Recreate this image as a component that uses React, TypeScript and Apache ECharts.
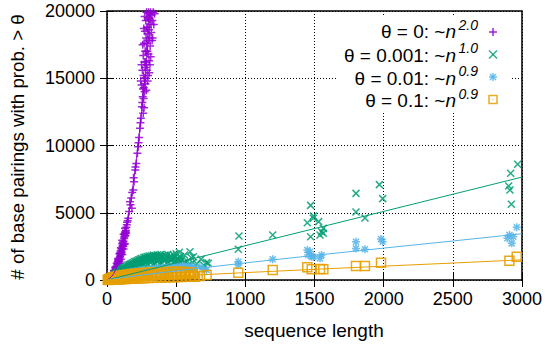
import React, { useEffect, useRef } from "react";
import * as echarts from "echarts";

const FONT = '"Liberation Sans", Arial, Helvetica, sans-serif';

const PURPLE = "#9400d3";
const GREEN = "#009e73";
const BLUE = "#56b4e9";
const ORANGE = "#e69f00";

const xTickValues = [0, 500, 1000, 1500, 2000, 2500, 3000];
const yTickValues = [0, 5000, 10000, 15000, 20000];

const legendLabels = ["θ = 0: ~", "θ = 0.001: ~", "θ = 0.01: ~", "θ = 0.1: ~"];
const legendExponents = ["2.0", "1.0", "0.9", "0.9"];

// θ = 0 : [sequence length, pair count]
const purplePoints: [number, number][] = [
  [4, 5], [8, 15], [12, 30], [16, 50], [20, 80], [24, 110], [28, 160], [32, 200], [36, 260], [40, 320],
  [44, 390], [48, 460], [52, 540], [56, 630], [60, 720], [64, 820], [68, 930], [72, 1040], [76, 1150],
  [80, 1280], [84, 1410], [88, 1550], [92, 1700], [96, 1850], [100, 2000], [104, 2160], [108, 2330],
  [112, 2510], [116, 2690], [120, 2880], [124, 3080], [128, 3280], [132, 3480], [136, 3700], [140, 3920],
  [30, 240], [38, 250], [46, 480], [54, 520], [62, 900], [70, 850], [78, 1400], [86, 1250], [94, 2000],
  [102, 1900], [110, 2700], [118, 2500], [126, 3400], [134, 3300], [42, 300], [50, 620], [58, 560],
  [66, 1000], [74, 950], [82, 1500], [90, 1400], [98, 2150], [106, 2050], [114, 2800], [122, 2650],
  [130, 3550], [138, 3500], [145, 4300], [130, 3840], [154, 4590], [166, 5820], [180, 5330], [190, 6690],
  [196, 7310], [205, 8180], [212, 8670], [220, 9420], [226, 9910], [232, 10600], [238, 11280], [245, 12020],
  [252, 12880], [258, 13630], [175, 6100], [182, 6500], [192, 7600], [206, 8400], [228, 10200], [242, 11700],
  [35, 200], [45, 330], [55, 650], [65, 760], [75, 1200], [85, 1500], [95, 1750], [105, 2300], [115, 2550],
  [125, 3200], [135, 3600], [143, 4100], [150, 4400], [160, 5100], [170, 5600],
  [60, 560], [70, 760], [80, 1000], [90, 1250], [100, 1550], [110, 1900], [120, 2300], [130, 2700],
  [50, 700], [60, 950], [70, 1250], [80, 1600], [90, 1950], [100, 2400], [110, 2950], [120, 3400],
  [255, 13200], [266, 14300], [270, 15000], [275, 15800], [280, 16200], [284, 17000], [288, 17600],
  [292, 18300], [296, 18800], [300, 19300], [305, 19800], [260, 14200], [264, 15200], [270, 16200],
  [276, 17000], [282, 18000], [288, 18800], [294, 19500], [300, 19900], [272, 14000], [280, 15000],
  [286, 16000], [292, 17000], [298, 17800], [304, 18600], [310, 19400], [315, 19900], [265, 13500],
  [278, 14600], [290, 15600], [300, 16800], [308, 18000], [318, 19000], [322, 19700],
  [250, 14500], [256, 15600], [262, 16700], [268, 17600], [274, 18500], [280, 19300], [286, 19900],
  [296, 15200], [304, 16300], [312, 17400], [320, 18400], [328, 19300], [334, 19900],
  [268, 12800], [262, 12400], [284, 14100], [294, 14800], [310, 16000], [330, 18000],
  [244, 14800], [250, 16000], [258, 17500], [266, 18700], [272, 19600], [306, 15400], [316, 16600],
  [326, 17800], [338, 19000], [344, 19800],
];
const purpleFit: [number, number][] = [
  [0, 0], [50, 500], [100, 2000], [150, 4500], [200, 8000], [250, 12500], [300, 18000], [316, 20000],
];

// θ = 0.001
const greenPoints: [number, number][] = [
  [10, 60], [15, 110], [20, 150], [25, 200], [30, 170], [35, 260], [40, 300], [45, 250], [50, 380],
  [55, 420], [60, 350], [65, 500], [70, 460], [75, 560], [80, 600], [85, 520], [90, 700], [95, 640],
  [100, 780], [105, 700], [110, 850], [115, 760], [120, 900], [125, 820], [130, 960], [135, 880],
  [140, 1020], [145, 950], [150, 1100], [155, 980], [160, 1150], [165, 1050], [170, 1180], [175, 1100],
  [180, 1250], [185, 1150], [190, 1300], [195, 1200], [200, 1380], [205, 1250], [210, 1400], [215, 1300],
  [220, 1450], [225, 1350], [230, 1500], [235, 1380], [240, 1550], [245, 1420], [250, 1600], [255, 1450],
  [260, 1520], [265, 1650], [270, 1480], [275, 1700], [280, 1550], [285, 1620], [290, 1750], [295, 1500],
  [300, 1680], [305, 1780], [310, 1550], [315, 1650], [320, 1800], [325, 1600], [330, 1720], [335, 1850],
  [340, 1580], [345, 1700], [350, 1820], [355, 1650], [360, 1750], [365, 1880], [370, 1600], [375, 1720],
  [380, 1800], [385, 1650], [390, 1900], [395, 1700], [400, 1780], [410, 1620], [420, 1850], [430, 1700],
  [440, 1900], [450, 1650], [460, 1800], [470, 1550], [480, 1880], [490, 1700], [500, 1950], [510, 1600],
  [523, 2060], [530, 1750], [540, 1500], [560, 1850], [580, 1400], [600, 2100], [610, 1650], [624, 1730],
  [650, 1200], [680, 1550], [700, 1100], [720, 1290], [733, 1240],
  [100, 450], [150, 650], [200, 850], [250, 1000], [300, 1100], [350, 1200], [400, 1250], [450, 1300],
  [500, 1350], [120, 550], [180, 800], [230, 950], [280, 1050], [330, 1150], [380, 1200], [430, 1250],
  [480, 1300], [530, 1350], [60, 250], [80, 420], [140, 700], [160, 900], [210, 1050], [260, 1250],
  [310, 1350], [360, 1400], [410, 1450], [460, 1450], [510, 1400], [560, 1300], [590, 1150], [620, 1300],
  [200, 1100], [240, 1250], [280, 1300], [320, 1450], [370, 1450], [420, 1550], [470, 1650], [520, 1550],
  [1, 0], [5, 20],
  [954, 3270], [949, 2280], [1198, 3345], [1472, 5550], [1492, 4760], [1448, 4260], [1530, 4340],
  [1472, 3220], [1551, 3590], [1564, 3840], [1540, 3350], [1492, 4585], [1564, 3470],
  [1800, 6440], [1993, 6050], [1969, 7090], [1800, 5055], [1865, 4610],
  [2969, 8600], [2918, 7930], [2904, 6990], [2913, 6690], [2923, 5625],
];
const greenFit: [number, number][] = [[0, 0], [3000, 7650]];

// θ = 0.01
const bluePoints: [number, number][] = [
  [10, 40], [25, 100], [40, 160], [55, 210], [70, 260], [85, 300], [100, 340], [115, 380], [130, 420],
  [145, 450], [160, 480], [175, 510], [190, 540], [205, 560], [220, 590], [235, 610], [250, 640],
  [265, 660], [280, 680], [295, 700], [310, 720], [325, 740], [340, 760], [355, 780], [370, 800],
  [385, 810], [400, 830], [415, 840], [430, 860], [445, 870], [460, 880], [475, 890], [490, 900],
  [505, 910], [520, 920], [535, 930], [550, 940], [565, 930], [580, 950], [600, 900], [620, 940],
  [20, 110], [50, 240], [80, 360], [110, 450], [140, 540], [170, 600], [200, 650], [230, 700],
  [260, 740], [290, 780], [320, 820], [350, 860], [380, 880], [410, 920], [440, 950], [470, 980],
  [500, 1000], [530, 1010], [560, 1020], [590, 1000], [630, 850], [672, 990], [700, 800], [720, 740],
  [949, 1360], [949, 1115], [1198, 1540], [1468, 2100], [1492, 1730], [1540, 1610], [1551, 1860],
  [1448, 2230], [1480, 1735], [1455, 1860],
  [1800, 2850], [1800, 2350], [1865, 2280], [1981, 3050], [1993, 2850],
  [2962, 3915], [2909, 3345], [2926, 2725], [2894, 3100], [2937, 3220],
];
const blueFit: [number, number][] = [
  [0, 0], [100, 160], [250, 370], [500, 680], [1000, 1270], [1500, 1830], [2000, 2370], [2500, 2900], [3000, 3440],
];

// θ = 0.1
const orangePoints: [number, number][] = [
  [10, 0], [25, 10], [40, 20], [55, 30], [70, 40], [85, 50], [100, 60], [120, 70], [140, 80], [160, 90],
  [180, 100], [200, 110], [225, 120], [250, 130], [275, 140], [300, 150], [330, 160], [360, 170],
  [390, 180], [420, 190], [450, 200], [480, 210], [510, 220], [540, 230], [570, 240], [600, 250], [630, 260],
  [15, 40], [30, 80], [45, 110], [60, 140], [75, 170], [90, 190], [110, 220], [130, 240], [150, 260],
  [170, 280], [190, 300], [215, 320], [240, 340], [265, 350], [290, 360], [320, 380], [350, 400],
  [380, 410], [410, 420], [440, 430], [470, 440], [500, 450], [530, 460], [560, 470], [590, 480], [620, 450],
  [20, 120], [40, 200], [60, 250], [80, 300], [100, 340], [125, 380], [150, 410], [175, 440], [200, 470],
  [230, 500], [260, 520], [290, 540], [320, 560], [350, 570], [380, 580], [410, 590], [440, 600],
  [470, 610], [500, 620], [530, 620], [560, 600], [590, 580], [620, 560],
  [5, 20], [20, 30], [35, 60], [50, 90], [65, 100], [80, 130], [95, 150], [115, 160], [135, 180],
  [155, 200], [175, 230], [195, 250], [220, 270], [245, 290], [270, 300], [300, 320], [330, 330],
  [360, 350], [395, 370], [430, 380], [465, 400], [500, 410], [535, 420], [570, 430], [605, 440],
  [636, 250], [672, 300], [720, 370],
  [949, 545], [1198, 745], [1448, 945], [1480, 795], [1540, 820], [1564, 795],
  [1800, 1040], [1865, 1040], [1981, 1290],
  [2909, 1435], [2962, 1735],
];
const orangeFit: [number, number][] = [
  [0, 0], [100, 70], [250, 160], [500, 290], [1000, 550], [1500, 790], [2000, 1030], [2500, 1260], [3000, 1500],
];

const PLUS = "path://M0,4L8,4M4,0L4,8";
const CROSS = "path://M0,0L8,8M8,0L0,8";
const STAR = "path://M0,4L8,4M4,0L4,8M1,1L7,7M7,1L1,7";

function scatter(name: string, data: [number, number][], symbol: string, color: string, size: number, opacity: number) {
  return {
    name,
    type: "scatter",
    data,
    symbol,
    symbolSize: size,
    clip: false,
    silent: true,
    itemStyle: { color: "transparent", borderColor: color, borderWidth: 1.5, opacity },
  };
}
function fitLine(name: string, data: [number, number][], color: string, smooth = false) {
  return {
    name,
    type: "line",
    data,
    smooth,
    showSymbol: false,
    symbol: "none",
    silent: true,
    clip: true,
    lineStyle: { color, width: 1 },
  };
}

export default function App() {
  const ref = useRef<HTMLDivElement>(null);
  useEffect(() => {
    if (!ref.current) return;
    const chart = echarts.init(ref.current, null, { renderer: "svg" });
    const tickLine = { color: "#000", width: 1 };
    const label = { color: "#000", fontSize: 18, fontFamily: FONT, formatter: (v: number) => String(v) };
    const dotted = { color: "#000", width: 1, type: [1, 2] };
    const rowY = [31.5, 55, 78, 100.5];
    const iconX = 493;
    const iconY = [32, 54.5, 77, 99.5];
    const Z = 100;
    const legendEls: any[] = [
      { type: "rect", z: Z, shape: { x: 338, y: 17, width: 172, height: 96 }, style: { fill: "#fff" } },
    ];
    legendLabels.forEach((t, i) => {
      legendEls.push({
        type: "text",
        z: Z + 1,
        x: 456,
        y: rowY[i],
        style: {
          text: `{a|${t}}{b|n}`,
          rich: {
            a: { fontSize: 19, fontFamily: FONT, fill: "#000" },
            b: { fontSize: 19, fontFamily: FONT, fontStyle: "italic", fill: "#000" },
          },
          align: "right",
          verticalAlign: "middle",
        },
      });
      legendEls.push({
        type: "text",
        z: Z + 1,
        x: 458.5,
        y: rowY[i] - 7,
        style: {
          text: legendExponents[i],
          fontSize: 14,
          fontFamily: FONT,
          fontStyle: "italic",
          fill: "#000",
          align: "left",
          verticalAlign: "middle",
        },
      });
    });
    const h = 4;
    const iconStroke = (c: string) => ({ stroke: c, lineWidth: 1.5, opacity: 0.85 });
    const ln = (x1: number, y1: number, x2: number, y2: number, c: string) => ({
      type: "line", z: Z + 1, shape: { x1, y1, x2, y2 }, style: iconStroke(c),
    });
    legendEls.push(
      ln(iconX - h, iconY[0], iconX + h, iconY[0], PURPLE),
      ln(iconX, iconY[0] - h, iconX, iconY[0] + h, PURPLE),
      ln(iconX - h, iconY[1] - h, iconX + h, iconY[1] + h, GREEN),
      ln(iconX + h, iconY[1] - h, iconX - h, iconY[1] + h, GREEN),
      ln(iconX - h, iconY[2], iconX + h, iconY[2], BLUE),
      ln(iconX, iconY[2] - h, iconX, iconY[2] + h, BLUE),
      ln(iconX - 3, iconY[2] - 3, iconX + 3, iconY[2] + 3, BLUE),
      ln(iconX + 3, iconY[2] - 3, iconX - 3, iconY[2] + 3, BLUE),
      { type: "rect", z: Z + 1, shape: { x: iconX - h, y: iconY[3] - h, width: 2 * h, height: 2 * h }, style: { fill: "none", ...iconStroke(ORANGE) } },
      { type: "rect", z: Z + 1, shape: { x: iconX - 0.5, y: iconY[3] - 0.5, width: 1, height: 1 }, style: { fill: ORANGE, opacity: 0.8 } }
    );

    chart.setOption({
      animation: false,
      backgroundColor: "#fff",
      grid: { left: 107, right: 23, top: 11, bottom: 65, show: true, borderColor: "#000", borderWidth: 1.5, backgroundColor: "transparent" },
      xAxis: [
        {
          type: "value", min: xTickValues[0], max: xTickValues[xTickValues.length - 1], interval: 500,
          position: "bottom",
          axisLine: { show: false },
          axisTick: { show: true, inside: true, length: 7, lineStyle: tickLine },
          axisLabel: { ...label, margin: 10 },
          splitLine: { show: true, lineStyle: dotted },
        },
        {
          type: "value", min: xTickValues[0], max: xTickValues[xTickValues.length - 1], interval: 500,
          position: "top",
          axisLine: { show: false },
          axisTick: { show: true, inside: true, length: 7, lineStyle: tickLine },
          axisLabel: { show: false },
          splitLine: { show: false },
        },
      ],
      yAxis: [
        {
          type: "value", min: yTickValues[0], max: yTickValues[yTickValues.length - 1], interval: 5000,
          position: "left",
          axisLine: { show: false },
          axisTick: { show: true, inside: true, length: 7, lineStyle: tickLine },
          axisLabel: { ...label, margin: 12 },
          splitLine: { show: true, lineStyle: dotted },
        },
        {
          type: "value", min: yTickValues[0], max: yTickValues[yTickValues.length - 1], interval: 5000,
          position: "right",
          axisLine: { show: false },
          axisTick: { show: true, inside: true, length: 7, lineStyle: tickLine },
          axisLabel: { show: false },
          splitLine: { show: false },
        },
      ],
      series: [
        scatter("θ = 0", purplePoints, PLUS, PURPLE, 8, 0.85),
        fitLine("fit θ = 0", purpleFit, PURPLE, true),
        scatter("θ = 0.001", greenPoints, CROSS, GREEN, 7, 0.85),
        fitLine("fit θ = 0.001", greenFit, GREEN),
        scatter("θ = 0.01", bluePoints, STAR, BLUE, 8, 0.85),
        fitLine("fit θ = 0.01", blueFit, BLUE),
        scatter("θ = 0.1", orangePoints, "rect", ORANGE, 9, 0.9),
        fitLine("fit θ = 0.1", orangeFit, ORANGE),
      ],
      graphic: [
        {
          type: "text",
          x: 17,
          y: 147,
          rotation: Math.PI / 2,
          style: { text: "# of base pairings with prob. > θ", fontSize: 18.7, fontFamily: FONT, fill: "#000", align: "center", verticalAlign: "middle" },
        },
        {
          type: "text",
          x: 314,
          y: 330,
          style: { text: "sequence length", fontSize: 19, fontFamily: FONT, fill: "#000", align: "center", verticalAlign: "middle" },
        },
        ...legendEls,
      ],
    });
    return () => chart.dispose();
  }, []);
  return <div ref={ref} style={{ width: 545, height: 345, position: "absolute", left: 0, top: 0 }} />;
}
